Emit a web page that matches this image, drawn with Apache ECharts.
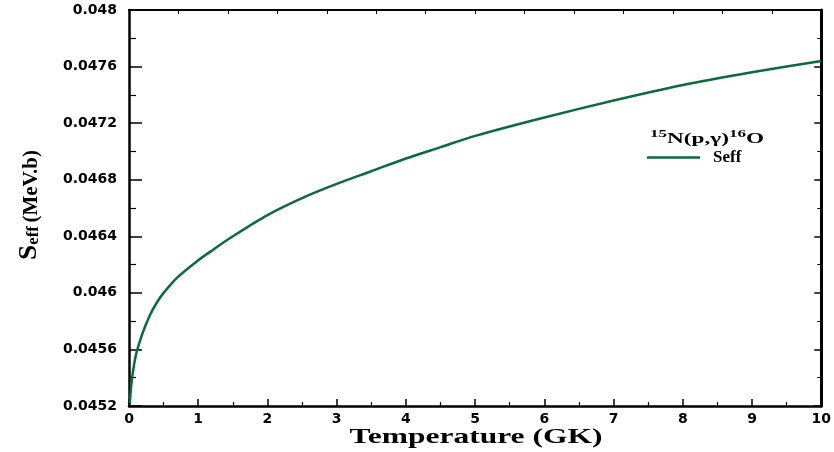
<!DOCTYPE html>
<html>
<head>
<meta charset="utf-8">
<script src="https://cdn.jsdelivr.net/npm/echarts@6/dist/echarts.min.js"></script>
<style>
  html, body { margin: 0; padding: 0; background: #fff; }
  #main { width: 834px; height: 452px; }
</style>
</head>
<body>
<div id="main"></div>
<script>
// temperature (GK) and effective S-factor (MeV.b)
var temps = [0.012, 0.04, 0.1, 0.2, 0.3, 0.4, 0.5, 0.7, 1.0, 1.2, 1.5, 2.0, 2.5, 3.0, 3.5, 4.0, 4.5, 5.0, 6.0, 7.0, 8.0, 9.0, 10.0];
var seff = [0.04522, 0.04538, 0.04556, 0.04572, 0.04584, 0.04593, 0.04600, 0.04611, 0.04623, 0.04630, 0.04640, 0.04655, 0.04667, 0.04677, 0.04686, 0.04695, 0.04703, 0.04711, 0.04724, 0.04736, 0.04747, 0.04756, 0.04764];
var yTicks = ['0.0452', '0.0456', '0.046', '0.0464', '0.0468', '0.0472', '0.0476', '0.048'];
var xTicks = ['0', '1', '2', '3', '4', '5', '6', '7', '8', '9', '10'];

var GREEN = '#0b6b3a';
var serif = '"Liberation Serif", "Times New Roman", serif';

var points = temps.map(function (t, i) { return [t, seff[i]]; });

var myChart = echarts.init(document.getElementById('main'));

var option = {
    backgroundColor: '#fff',
    animation: false,
    grid: { left: 129, right: 11, top: 10, bottom: 46 },
    legend: {
        data: [{ name: 'Seff', icon: 'rect' }],
        left: 647,
        top: 149,
        padding: 0,
        itemWidth: 53,
        itemHeight: 2.5,
        textStyle: {
            fontFamily: serif,
            fontWeight: 'bold',
            fontSize: 17,
            color: '#000',
            padding: [0, 0, 0, 8]
        }
    },
    xAxis: [
        {
            type: 'value',
            min: 0,
            max: 10,
            interval: 1,
            position: 'bottom',
            axisLine: { onZero: false, lineStyle: { color: '#000', width: 2.5 } },
            axisTick: { inside: true, length: 7, lineStyle: { color: '#000', width: 1.5 } },
            minorTick: { show: true, splitNumber: 2, length: 4, lineStyle: { color: '#000', width: 1.2 } },
            axisLabel: {
                margin: 6,
                fontFamily: '"DejaVu Sans", Verdana, sans-serif',
                fontWeight: 'bold',
                fontSize: 14,
                color: '#000',
                formatter: function (v) { return xTicks[Math.round(v)]; }
            },
            splitLine: { show: false }
        },
        {
            type: 'value',
            min: 0,
            max: 14,
            interval: 1,
            position: 'top',
            axisLine: { onZero: false, lineStyle: { color: '#000', width: 2 } },
            axisTick: { inside: true, length: 4, lineStyle: { color: '#000', width: 1 } },
            axisLabel: { show: false },
            splitLine: { show: false }
        }
    ],
    yAxis: [
        {
            type: 'value',
            min: 0.0452,
            max: 0.048,
            interval: 0.0004,
            position: 'left',
            axisLine: { onZero: false, lineStyle: { color: '#000', width: 2.5 } },
            axisTick: { inside: true, length: 13, lineStyle: { color: '#000', width: 1.5 } },
            minorTick: { show: true, splitNumber: 2, length: 7, lineStyle: { color: '#000', width: 1.2 } },
            axisLabel: {
                margin: 12,
                fontFamily: '"DejaVu Sans", Verdana, sans-serif',
                fontWeight: 'bold',
                fontSize: 14,
                color: '#000',
                formatter: function (v) { return yTicks[Math.round((v - 0.0452) / 0.0004)]; }
            },
            splitLine: { show: false }
        },
        {
            type: 'value',
            min: 0.0452,
            max: 0.048,
            interval: 0.0004,
            position: 'right',
            axisLine: { onZero: false, lineStyle: { color: '#000', width: 3 } },
            axisTick: { inside: true, length: 7, lineStyle: { color: '#000', width: 1.5 } },
            minorTick: { show: true, splitNumber: 2, length: 4, lineStyle: { color: '#000', width: 1 } },
            axisLabel: { show: false },
            splitLine: { show: false }
        }
    ],
    graphic: [
        {
            // x axis title
            type: 'text',
            x: 476,
            y: 438,
            scaleX: 1.5,
            style: {
                text: 'Temperature (GK)',
                font: 'bold 21px ' + serif,
                fill: '#000',
                align: 'center',
                verticalAlign: 'middle'
            }
        },
        {
            // y axis title
            type: 'text',
            x: 29,
            y: 205,
            rotation: Math.PI / 2,
            scaleX: 1.05,
            style: {
                text: '{s|S}{e|eff} {m|(MeV.b)}',
                fill: '#000',
                align: 'center',
                verticalAlign: 'middle',
                rich: {
                    s: { fontFamily: serif, fontWeight: 'bold', fontSize: 26, verticalAlign: 'bottom' },
                    e: { fontFamily: serif, fontWeight: 'bold', fontSize: 16, verticalAlign: 'bottom' },
                    m: { fontFamily: serif, fontWeight: 'bold', fontSize: 20, verticalAlign: 'bottom' }
                }
            }
        },
        {
            // reaction label above the legend
            type: 'text',
            x: 707,
            y: 138,
            scaleX: 1.55,
            style: {
                text: '{p|15}{b|N(p,\u03b3)}{p|16}{b|O}',
                fill: '#000',
                align: 'center',
                verticalAlign: 'middle',
                rich: {
                    p: { fontFamily: serif, fontWeight: 'bold', fontSize: 11, verticalAlign: 'top' },
                    b: { fontFamily: serif, fontWeight: 'bold', fontSize: 15, lineHeight: 18, verticalAlign: 'bottom' }
                }
            }
        }
    ],
    series: [
        {
            name: 'Seff',
            type: 'line',
            xAxisIndex: 0,
            yAxisIndex: 0,
            data: points,
            smooth: 0.3,
            symbol: 'none',
            showSymbol: false,
            itemStyle: { color: GREEN },
            lineStyle: { color: GREEN, width: 2.5 }
        }
    ]
};

myChart.setOption(option);
</script>
</body>
</html>
